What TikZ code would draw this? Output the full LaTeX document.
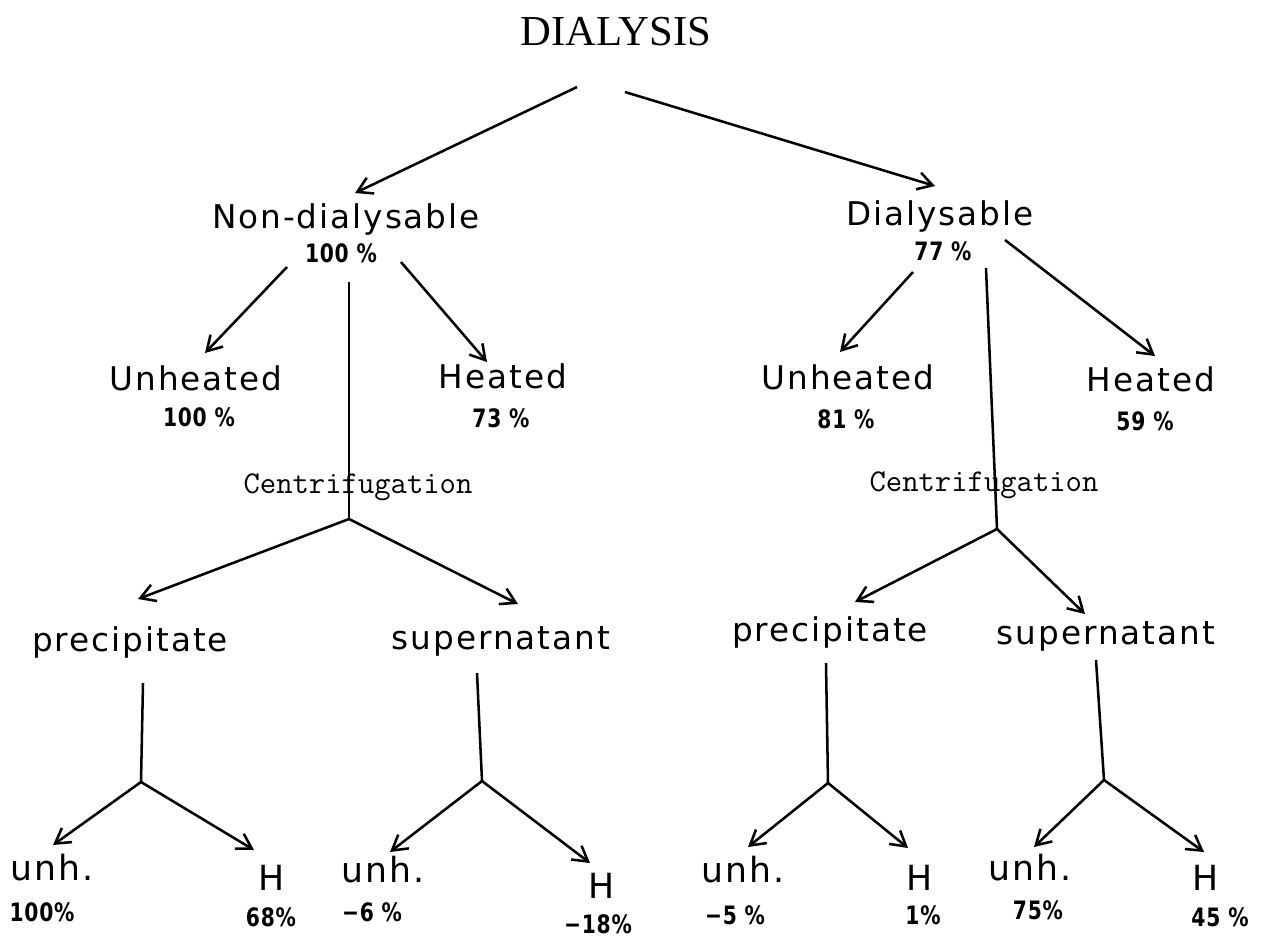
\documentclass[tikz,border=0pt]{standalone}
\usepackage{fontspec}
\usetikzlibrary{arrows.meta}
\newfontfamily\titlefont{Liberation Serif}
\newfontfamily\labelfont[LetterSpace=6]{DejaVu Sans}
\newfontfamily\pctfont[FakeStretch=0.8,LetterSpace=3]{DejaVu Sans}

\tikzset{every picture/.style={line width=0.75pt}}
\tikzset{
  arr/.style={line width=1.9pt,-{Straight Barb[length=11pt,width=13pt,line width=1.9pt]}},
  ln/.style={line width=1.9pt},
  lbl/.style={anchor=base,inner sep=0pt,font=\labelfont\fontsize{24.5}{28}\selectfont},
  lblbig/.style={anchor=base,inner sep=0pt,font=\labelfont\fontsize{26}{30}\selectfont},
  pct/.style={anchor=base,inner sep=0pt,font=\pctfont\bfseries\fontsize{19}{22}\selectfont},
  cfg/.style={anchor=base,inner sep=0pt,font=\ttfamily\fontsize{23.8}{26}\selectfont},
}

\begin{document}
\begin{tikzpicture}[x=0.75pt,y=0.75pt,yscale=-1,xscale=1]
\useasboundingbox (0,0) rectangle (1265,940); %set diagram to the page size

% Text Node
\node[anchor=base,inner sep=0pt,font=\titlefont\fontsize{32}{36}\selectfont] (dia) at (616,45) {DIALYSIS};

% Text Node
\node[lbl] (nd) at (346,228) {Non-dialysable};
\node[pct] (ndp) at (341,262) {100 \%};
\node[lbl] (dl) at (940,225) {Dialysable};
\node[pct] (dlp) at (943,260) {77 \%};

% Text Node
\node[lbl] (unA) at (196,390) {Unheated};
\node[pct] (unAp) at (199,426) {100 \%};
\node[lbl] (htA) at (503,388) {Heated};
\node[pct] (htAp) at (501,427) {73 \%};
\node[lbl] (unB) at (848,389) {Unheated};
\node[pct] (unBp) at (846,428) {81 \%};
\node[lbl] (htB) at (1151,391) {Heated};
\node[pct] (htBp) at (1145,430) {59 \%};

% Text Node
\node[cfg] (cfA) at (358,493) {Centrifugation};
\node[cfg] (cfB) at (984,491) {Centrifugation};

% Text Node
\node[lbl] (prA) at (130,651) {precipitate};
\node[lbl] (spA) at (501,649) {supernatant};
\node[lbl] (prB) at (830,641) {precipitate};
\node[lbl] (spB) at (1106,644) {supernatant};

% Text Node
\node[lblbig] (uA) at (52,880) {unh.};
\node[lblbig] (hA) at (272,890) {H};
\node[lblbig] (uB) at (383,882) {unh.};
\node[lblbig] (hB) at (602,898) {H};
\node[lblbig] (uC) at (743,882) {unh.};
\node[lblbig] (hC) at (920,890) {H};
\node[lblbig] (uD) at (1030,880) {unh.};
\node[lblbig] (hD) at (1206,890) {H};

% Text Node
\node[pct] (uAp) at (42,921) {100\%};
\node[pct] (hAp) at (271,926) {68\%};
\node[pct] (uBp) at (372,921) {−6 \%};
\node[pct] (hBp) at (598,933) {−18\%};
\node[pct] (uCp) at (735,924) {−5 \%};
\node[pct] (hCp) at (923,924) {1\%};
\node[pct] (uDp) at (1038,919) {75\%};
\node[pct] (hDp) at (1220,926) {45 \%};

% end points
\coordinate (t0) at (577,87);   \coordinate (t1) at (355,193);
\coordinate (t2) at (625,92);   \coordinate (t3) at (935,186);
\coordinate (a0) at (287,267);  \coordinate (a1) at (205,353);
\coordinate (a2) at (401,262);  \coordinate (a3) at (487,362);
\coordinate (a4) at (349,282);  \coordinate (jA) at (349,519);
\coordinate (b0) at (913,272);  \coordinate (b1) at (840,352);
\coordinate (b2) at (1005,240); \coordinate (b3) at (1155,356);
\coordinate (b4) at (986,268);  \coordinate (jB) at (997,529);
\coordinate (c1) at (138,599);  \coordinate (c2) at (518,604);
\coordinate (d1) at (855,602);  \coordinate (d2) at (1085,614);
\coordinate (e0) at (143,683);  \coordinate (kA) at (141,782);
\coordinate (f0) at (477,673);  \coordinate (kB) at (482,781);
\coordinate (g0) at (826,663);  \coordinate (kC) at (828,783);
\coordinate (h0) at (1096,660); \coordinate (kD) at (1104,780);

%Straight Lines
\draw[arr] (t0) -- (t1);
\draw[arr] (t2) -- (t3);
%Straight Lines
\draw[arr] (a0) -- (a1);
\draw[arr] (a2) -- (a3);
\draw[ln] (a4) -- (jA);
\draw[arr] (b0) -- (b1);
\draw[arr] (b2) -- (b3);
\draw[ln] (b4) -- (jB);
%Straight Lines
\draw[arr] (jA) -- (c1);
\draw[arr] (jA) -- (c2);
\draw[arr] (jB) -- (d1);
\draw[arr] (jB) -- (d2);
%Straight Lines
\draw[ln] (e0) -- (kA);
\draw[arr] (kA) -- (53,845);
\draw[arr] (kA) -- (254,850);
\draw[ln] (f0) -- (kB);
\draw[arr] (kB) -- (390,852);
\draw[arr] (kB) -- (590,863);
\draw[ln] (g0) -- (kC);
\draw[arr] (kC) -- (748,847);
\draw[arr] (kC) -- (908,848);
\draw[ln] (h0) -- (kD);
\draw[arr] (kD) -- (1034,847);
\draw[arr] (kD) -- (1204,852);

\end{tikzpicture}
\end{document}
